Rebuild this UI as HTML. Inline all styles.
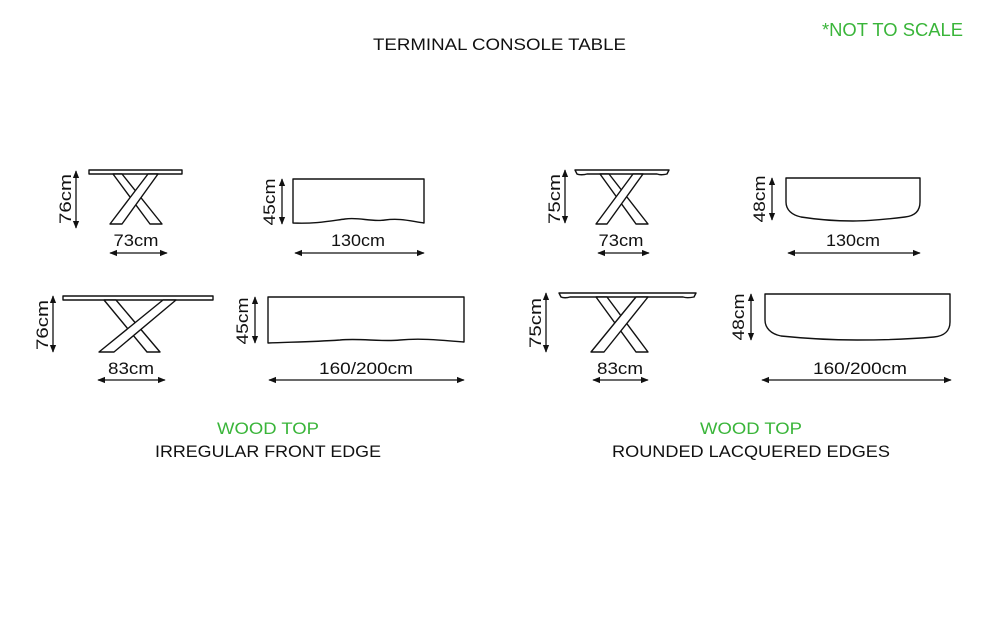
<!DOCTYPE html>
<html><head><meta charset="utf-8"><style>
html,body{margin:0;padding:0;background:#fff;}
svg{display:block;}
text{font-family:"Liberation Sans",sans-serif;font-size:17px;fill:#111;}
.g{fill:#3ab53a;}
</style></head><body>
<svg width="1000" height="625" viewBox="0 0 1000 625" xmlns="http://www.w3.org/2000/svg">
<defs>
<marker id="a" viewBox="0 0 10 10" refX="9" refY="5" markerWidth="6" markerHeight="6" orient="auto-start-reverse"><path d="M0,1 L10,5 L0,9 Z" fill="#111"/></marker>
</defs>
<text x="373" y="50" textLength="253" lengthAdjust="spacingAndGlyphs">TERMINAL CONSOLE TABLE</text>
<text class="g" x="822" y="36" textLength="141" lengthAdjust="spacingAndGlyphs" style="font-size:18px">*NOT TO SCALE</text>

<g fill="#fff" stroke="#111" stroke-width="1.4" stroke-linejoin="round">
<rect x="89" y="170" width="93" height="4"/>
<polygon points="113,174 122,174 162,224 150,224"/>
<polygon points="148,174 158,174 122,224 110,224"/>
<path d="M293,179 H424 V223 C410,221 400,218 385,220 C370,222 360,217 345,219 C330,221 315,224 293,223 Z"/>
<rect x="63" y="296" width="150" height="4"/>
<polygon points="104,300 116,300 160,352 147,352"/>
<polygon points="163,300 176,300 114,352 99,352"/>
<path d="M268,297 H464 V342 C440,340 420,338 400,340 C380,342 360,338 340,340 C310,342 290,342 268,343 Z"/>
<path d="M575,170 H669 L667,174 C662,175 660,175 657,174 H587 C584,175 579,175 577,174 Z"/>
<polygon points="600,174 609,174 648,224 636,224"/>
<polygon points="633,174 643,174 607,224 596,224"/>
<path d="M786,178 H920 V202 C920,212 914,216 905,217 C880,220 860,221 853,221 C840,221 820,220 801,217 C792,215 786,210 786,202 Z"/>
<path d="M559,293 H696 L694,297 C689,298 686,298 683,297 H570 C567,298 563,298 561,297 Z"/>
<polygon points="596,297 607,297 648,352 636,352"/>
<polygon points="636,297 648,297 604,352 591,352"/>
<path d="M765,294 H950 V322 C950,331 944,336 934,337 C900,340 870,340 857,340 C840,340 810,339 781,336 C771,334 765,328 765,320 Z"/>
</g>

<g stroke="#111" stroke-width="1.3" marker-start="url(#a)" marker-end="url(#a)">
<line x1="76" y1="171" x2="76" y2="228"/>
<line x1="110" y1="253" x2="167" y2="253"/>
<line x1="282" y1="179" x2="282" y2="224"/>
<line x1="295" y1="253" x2="424" y2="253"/>
<line x1="53" y1="296" x2="53" y2="352"/>
<line x1="98" y1="380" x2="165" y2="380"/>
<line x1="255" y1="297" x2="255" y2="343"/>
<line x1="269" y1="380" x2="464" y2="380"/>
<line x1="565" y1="170" x2="565" y2="223"/>
<line x1="598" y1="253" x2="649" y2="253"/>
<line x1="772" y1="178" x2="772" y2="220"/>
<line x1="788" y1="253" x2="920" y2="253"/>
<line x1="546" y1="293" x2="546" y2="352"/>
<line x1="593" y1="380" x2="648" y2="380"/>
<line x1="751" y1="294" x2="751" y2="340"/>
<line x1="762" y1="380" x2="951" y2="380"/>
</g>

<g text-anchor="middle" lengthAdjust="spacingAndGlyphs">
<text x="136" y="246" textLength="45" lengthAdjust="spacingAndGlyphs">73cm</text>
<text x="358" y="246" textLength="54" lengthAdjust="spacingAndGlyphs">130cm</text>
<text x="131" y="374" textLength="46" lengthAdjust="spacingAndGlyphs">83cm</text>
<text x="366" y="374" textLength="94" lengthAdjust="spacingAndGlyphs">160/200cm</text>
<text x="621" y="246" textLength="45" lengthAdjust="spacingAndGlyphs">73cm</text>
<text x="853" y="246" textLength="54" lengthAdjust="spacingAndGlyphs">130cm</text>
<text x="620" y="374" textLength="46" lengthAdjust="spacingAndGlyphs">83cm</text>
<text x="860" y="374" textLength="94" lengthAdjust="spacingAndGlyphs">160/200cm</text>
<text transform="translate(71,199) rotate(-90)" textLength="50" lengthAdjust="spacingAndGlyphs">76cm</text>
<text transform="translate(275,202) rotate(-90)" textLength="47" lengthAdjust="spacingAndGlyphs">45cm</text>
<text transform="translate(48,325) rotate(-90)" textLength="50" lengthAdjust="spacingAndGlyphs">76cm</text>
<text transform="translate(248,321) rotate(-90)" textLength="47" lengthAdjust="spacingAndGlyphs">45cm</text>
<text transform="translate(560,199) rotate(-90)" textLength="50" lengthAdjust="spacingAndGlyphs">75cm</text>
<text transform="translate(765,199) rotate(-90)" textLength="47" lengthAdjust="spacingAndGlyphs">48cm</text>
<text transform="translate(541,323) rotate(-90)" textLength="50" lengthAdjust="spacingAndGlyphs">75cm</text>
<text transform="translate(744,317) rotate(-90)" textLength="47" lengthAdjust="spacingAndGlyphs">48cm</text>
<text class="g" x="268" y="434" textLength="102" lengthAdjust="spacingAndGlyphs">WOOD TOP</text>
<text x="268" y="457" textLength="226" lengthAdjust="spacingAndGlyphs">IRREGULAR FRONT EDGE</text>
<text class="g" x="751" y="434" textLength="102" lengthAdjust="spacingAndGlyphs">WOOD TOP</text>
<text x="751" y="457" textLength="278" lengthAdjust="spacingAndGlyphs">ROUNDED LACQUERED EDGES</text>
</g>
</svg>
</body></html>
